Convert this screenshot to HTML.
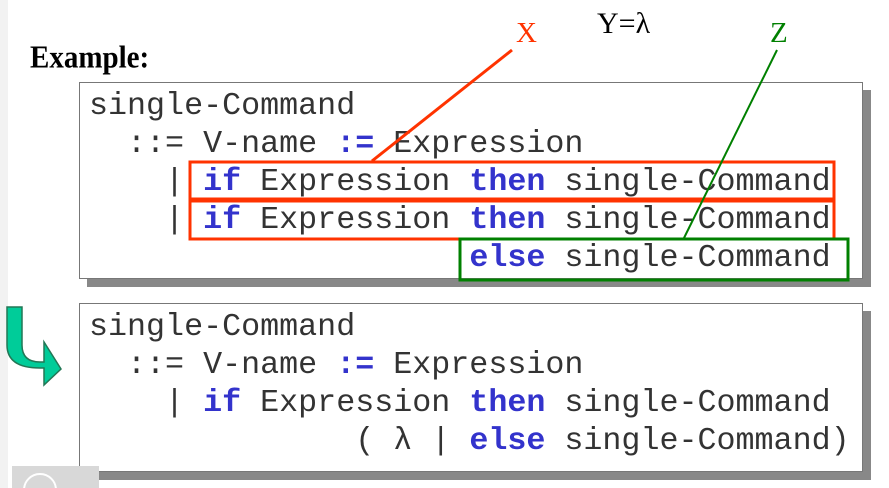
<!DOCTYPE html>
<html><head><meta charset="utf-8"><style>
body{margin:0;width:889px;height:488px;background:#fff;position:relative;overflow:hidden;font-family:"Liberation Serif",serif}
.box{position:absolute;left:79px;width:782px;background:#fff;border:1px solid #777;box-shadow:8px 8px 0 #888}
.t{position:absolute;left:89px;font-family:"Liberation Mono",monospace;font-size:31.7px;white-space:pre;color:#333;line-height:38px;letter-spacing:0}
b{color:#3333cc}
.ab{position:absolute;font-family:"Liberation Serif",serif}
</style></head><body>
<div style="position:absolute;left:0;top:0;width:8px;height:488px;background:#f2f2f2"></div>
<div class="ab" style="left:30px;top:40px;font-size:29px;font-weight:bold;transform:scaleY(1.1);transform-origin:left top">Example:</div>
<div class="ab" style="left:516px;top:17px;font-size:29px;color:#ff3300">X</div>
<div class="ab" style="left:597px;top:7px;font-size:30px">Y=λ</div>
<div class="ab" style="left:770px;top:17px;font-size:29px;color:#008000">Z</div>
<div class="box" style="top:82px;height:195px"></div>
<div class="t" style="top:87px">single-Command
  ::= V-name <b>:=</b> Expression
    | <b>if</b> Expression <b>then</b> single-Command
    | <b>if</b> Expression <b>then</b> single-Command
                    <b>else</b> single-Command</div>
<div class="box" style="top:303px;height:167px"></div>
<div class="t" style="top:308px">single-Command
  ::= V-name <b>:=</b> Expression
    | <b>if</b> Expression <b>then</b> single-Command
              ( λ | <b>else</b> single-Command)</div>
<svg width="889" height="488" style="position:absolute;left:0;top:0">
<rect x="190" y="162" width="644" height="37" fill="none" stroke="#ff3300" stroke-width="3"/>
<rect x="190" y="201" width="644" height="38" fill="none" stroke="#ff3300" stroke-width="3"/>
<rect x="460" y="239" width="388" height="41" fill="none" stroke="#008000" stroke-width="3"/>
<line x1="372" y1="161" x2="512" y2="50" stroke="#ff3300" stroke-width="3"/>
<line x1="683" y1="240" x2="777" y2="50" stroke="#008000" stroke-width="2"/>
<path d="M7,307 H22 V345 Q22,362 40,362 H44 V342 L61,369 L44,385 V368 H40 Q7,368 7,345 Z" fill="#00cc99" stroke="#227755" stroke-width="1.5"/>
<rect x="12" y="466" width="87" height="22" fill="#d8d8d8"/>
<circle cx="40" cy="490" r="16" fill="none" stroke="#fff" stroke-width="2"/>
</svg>
</body></html>
